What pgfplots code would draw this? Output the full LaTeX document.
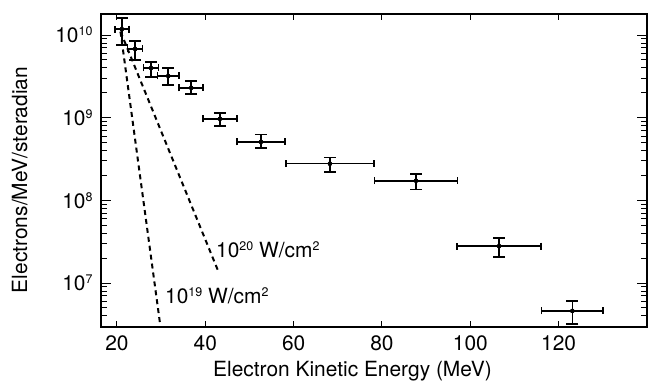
\documentclass[border=0pt]{standalone}
\usepackage{pgfplots}
\pgfplotsset{compat=1.18}
\usepackage{pgfplotstable}
\usepackage{fontspec}
\setmainfont{TeX Gyre Heros}
\newcommand{\sups}[1]{\raisebox{7bp}{\fontsize{12.5}{12.5}\selectfont #1}}
\pgfplotstableread{
x y ex eyp eym
21.1 1.18e10 1.6 0.42e10 0.42e10
24.1 6.8e9 1.7 1.7e9 1.8e9
27.7 4.0e9 1.7 0.7e9 0.9e9
31.6 3.2e9 2.4 0.8e9 0.7e9
36.8 2.3e9 2.7 0.48e9 0.37e9
43.3 0.97e9 3.85 0.18e9 0.17e9
52.6 5.1e8 5.4 1.2e8 0.8e8
68.2 2.78e8 10 0.52e8 0.58e8
87.7 1.73e8 9.4 0.37e8 0.37e8
106.5 2.8e7 9.5 0.7e7 0.73e7
123.1 4.6e6 7 1.45e6 1.4e6
}\data
\begin{document}
\begin{tikzpicture}
\begin{axis}[
  scale only axis, width=546bp, height=313bp,
  xmin=16.38, xmax=140,
  ymode=log, ymin=2.94e6, ymax=1.8e10,
  xtick={20,40,...,140}, xticklabels={20,40,60,80,100,120,{}},
  ytick={1e7,1e8,1e9,1e10},
  yticklabels={10\sups{7},10\sups{8},10\sups{9},10\sups{10}},
  minor ytick={3e6,4e6,5e6,6e6,7e6,8e6,9e6,2e7,3e7,4e7,5e7,6e7,7e7,8e7,9e7,2e8,3e8,4e8,5e8,6e8,7e8,8e8,9e8,2e9,3e9,4e9,5e9,6e9,7e9,8e9,9e9},
  tick align=inside,
  axis line style={line width=1.2bp},
  every tick/.style={black, line width=1bp},
  major tick length=10bp, minor tick length=6bp,
  xtick style={/pgfplots/major tick length=6bp},
  tick label style={font=\fontsize{21}{25}\selectfont},
  label style={font=\fontsize{21}{25}\selectfont},
  xticklabel style={yshift=-5bp},
  yticklabel style={xshift=-5bp},
  xlabel={Electron Kinetic Energy (MeV)},
  ylabel={Electrons/MeV/steradian},
  xlabel style={at={(axis description cs:0.4606,-0.1597)}, anchor=base},
  ylabel style={at={(axis description cs:-0.1355,0.4696)}, anchor=base},
  clip=false,
]
\addplot[black, dash pattern=on 5bp off 4bp, line width=2bp] coordinates {(20.8,1.1e10) (29.7,3.37e6)};
\addplot[black, dash pattern=on 5bp off 4bp, line width=2bp] coordinates {(20.8,1.1e10) (43.1,1.32e7)};
\addplot[black, only marks, mark=none,
  error bars/.cd, y dir=both, y explicit,
  error bar style={line width=1.6bp, black},
  error mark options={rotate=90, mark size=6bp, line width=1.6bp, black}]
  table[x=x, y=y, y error plus=eyp, y error minus=eym]{\data};
\addplot[black, only marks, mark=none,
  error bars/.cd, x dir=both, x explicit,
  error bar style={line width=1.6bp, black},
  error mark options={rotate=90, mark size=3.5bp, line width=1.6bp, black}]
  table[x=x, y=y, x error=ex]{\data};
\node[anchor=base west, inner sep=0pt, font=\fontsize{21}{25}\selectfont] at (axis cs:42.4,2.06e7) {10\sups{20} W/cm\sups{2}};
\node[anchor=base west, inner sep=0pt, font=\fontsize{21}{25}\selectfont] at (axis cs:30.87,5.73e6) {10\sups{19} W/cm\sups{2}};
\end{axis}
\pgfresetboundingbox
\path ([xshift=-101bp,yshift=-54bp]current axis.south west) rectangle ([xshift=5bp,yshift=14bp]current axis.north east);
\end{tikzpicture}
\end{document}
